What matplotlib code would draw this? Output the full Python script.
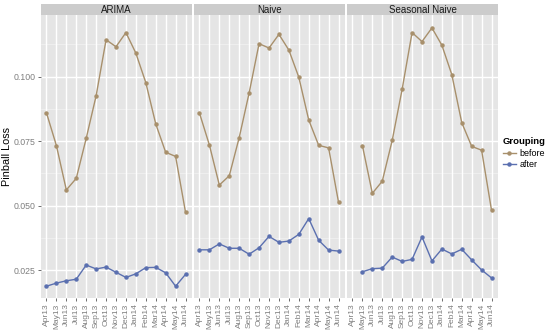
import numpy as np
import matplotlib
matplotlib.use("Agg")
import matplotlib.pyplot as plt
from matplotlib.lines import Line2D

plt.rcParams["font.family"] = ["Liberation Sans", "DejaVu Sans"]

months = ["Apr13", "May13", "Jun13", "Jul13", "Aug13", "Sep13", "Oct13", "Nov13",
          "Dec13", "Jan14", "Feb14", "Mar14", "Apr14", "May14", "Jun14"]
panels = ["ARIMA", "Naive", "Seasonal Naive"]

arima_before = [0.0860, 0.0733, 0.0561, 0.0606, 0.0761, 0.0926, 0.1143, 0.1116,
                0.1171, 0.1091, 0.0977, 0.0817, 0.0707, 0.0691, 0.0474]
arima_after = [0.0188, 0.0200, 0.0209, 0.0215, 0.0270, 0.0255, 0.0262, 0.0242,
               0.0222, 0.0236, 0.0260, 0.0261, 0.0240, 0.0188, 0.0234]
naive_before = [0.0859, 0.0735, 0.0580, 0.0616, 0.0764, 0.0937, 0.1128, 0.1111,
                0.1164, 0.1103, 0.0998, 0.0832, 0.0734, 0.0724, 0.0513]
naive_after = [0.0329, 0.0329, 0.0352, 0.0335, 0.0335, 0.0312, 0.0337, 0.0381,
               0.0358, 0.0363, 0.0389, 0.0450, 0.0366, 0.0328, 0.0324]
snaive_before = [np.nan, 0.0733, 0.0548, 0.0595, 0.0753, 0.0951, 0.1171, 0.1136,
                 0.1189, 0.1122, 0.1008, 0.0822, 0.0730, 0.0715, 0.0482]
snaive_after = [np.nan, 0.0244, 0.0256, 0.0258, 0.0301, 0.0284, 0.0292, 0.0379,
                0.0286, 0.0332, 0.0313, 0.0331, 0.0290, 0.0251, 0.0220]

series = {
    "ARIMA": (arima_before, arima_after),
    "Naive": (naive_before, naive_after),
    "Seasonal Naive": (snaive_before, snaive_after),
}
yticks = [0.025, 0.050, 0.075, 0.100]
ytick_labels = ["0.025", "0.050", "0.075", "0.100"]
minor_y = [0.0375, 0.0625, 0.0875, 0.1125]

c_before = "#A8906C"
c_after = "#5B70B0"

W, H = 550, 334
fig = plt.figure(figsize=(5.5, 3.34), dpi=100)
fig.patch.set_facecolor("white")

lefts = [41, 194, 347]
pw = 151
ptop, pbot = 15, 298
strip_top = 4
x = np.arange(len(months))

for i, name in enumerate(panels):
    l = lefts[i]
    ax = fig.add_axes([l / W, 1 - pbot / H, pw / W, (pbot - ptop) / H])
    ax.set_facecolor("#E5E5E5")
    for s in ax.spines.values():
        s.set_visible(False)
    ax.set_xlim(-0.55, 14.65)
    ax.set_ylim(0.01423, 0.1239)
    for yv in minor_y:
        ax.axhline(yv, color="#F2F2F2", lw=0.5, zorder=0)
    for yv in yticks:
        ax.axhline(yv, color="white", lw=1.0, zorder=0)
    for xv in x:
        ax.axvline(xv, color="white", lw=1.0, zorder=0)
    b, a = series[name]
    ax.plot(x, b, color=c_before, lw=1.0, marker="o", ms=2.2, zorder=3)
    ax.plot(x, a, color=c_after, lw=1.0, marker="o", ms=2.2, zorder=3)
    ax.set_xticks(x)
    ax.set_xticklabels(months, rotation=90, fontsize=6.0, color="#7F7F7F")
    ax.tick_params(axis="x", length=2.5, width=0.5, color="#333333", pad=1.5)
    ax.set_yticks(yticks)
    if i == 0:
        ax.set_yticklabels(ytick_labels, fontsize=6.3, color="#7F7F7F")
        ax.tick_params(axis="y", length=2.5, width=0.5, color="#333333", pad=1.5)
        ax.set_ylabel("Pinball Loss", fontsize=7.8)
        ax.yaxis.set_label_coords((12 - l) / pw, 0.5)
    else:
        ax.tick_params(axis="y", length=0, labelleft=False)
    # strip
    sax = fig.add_axes([l / W, 1 - ptop / H, pw / W, (ptop - strip_top) / H])
    sax.set_facecolor("#CCCCCC")
    sax.set_xticks([]); sax.set_yticks([])
    for s in sax.spines.values():
        s.set_visible(False)
    sax.text(0.5, 0.45, name, ha="center", va="center", fontsize=7.0, color="#1A1A1A",
             transform=sax.transAxes)

handles = [Line2D([0], [0], color=c_before, lw=1.0, marker="o", ms=2.2),
           Line2D([0], [0], color=c_after, lw=1.0, marker="o", ms=2.2)]
leg = fig.legend(handles, ["before", "after"], title="Grouping",
                 loc="upper left", bbox_to_anchor=(503 / W, 1 - 137 / H),
                 frameon=False, fontsize=6.5, title_fontsize=6.8,
                 handlelength=1.4, handletextpad=0.4, labelspacing=0.3,
                 borderaxespad=0, borderpad=0, alignment="left")
leg.get_title().set_fontweight("bold")

fig.savefig("out.png", dpi=100)
